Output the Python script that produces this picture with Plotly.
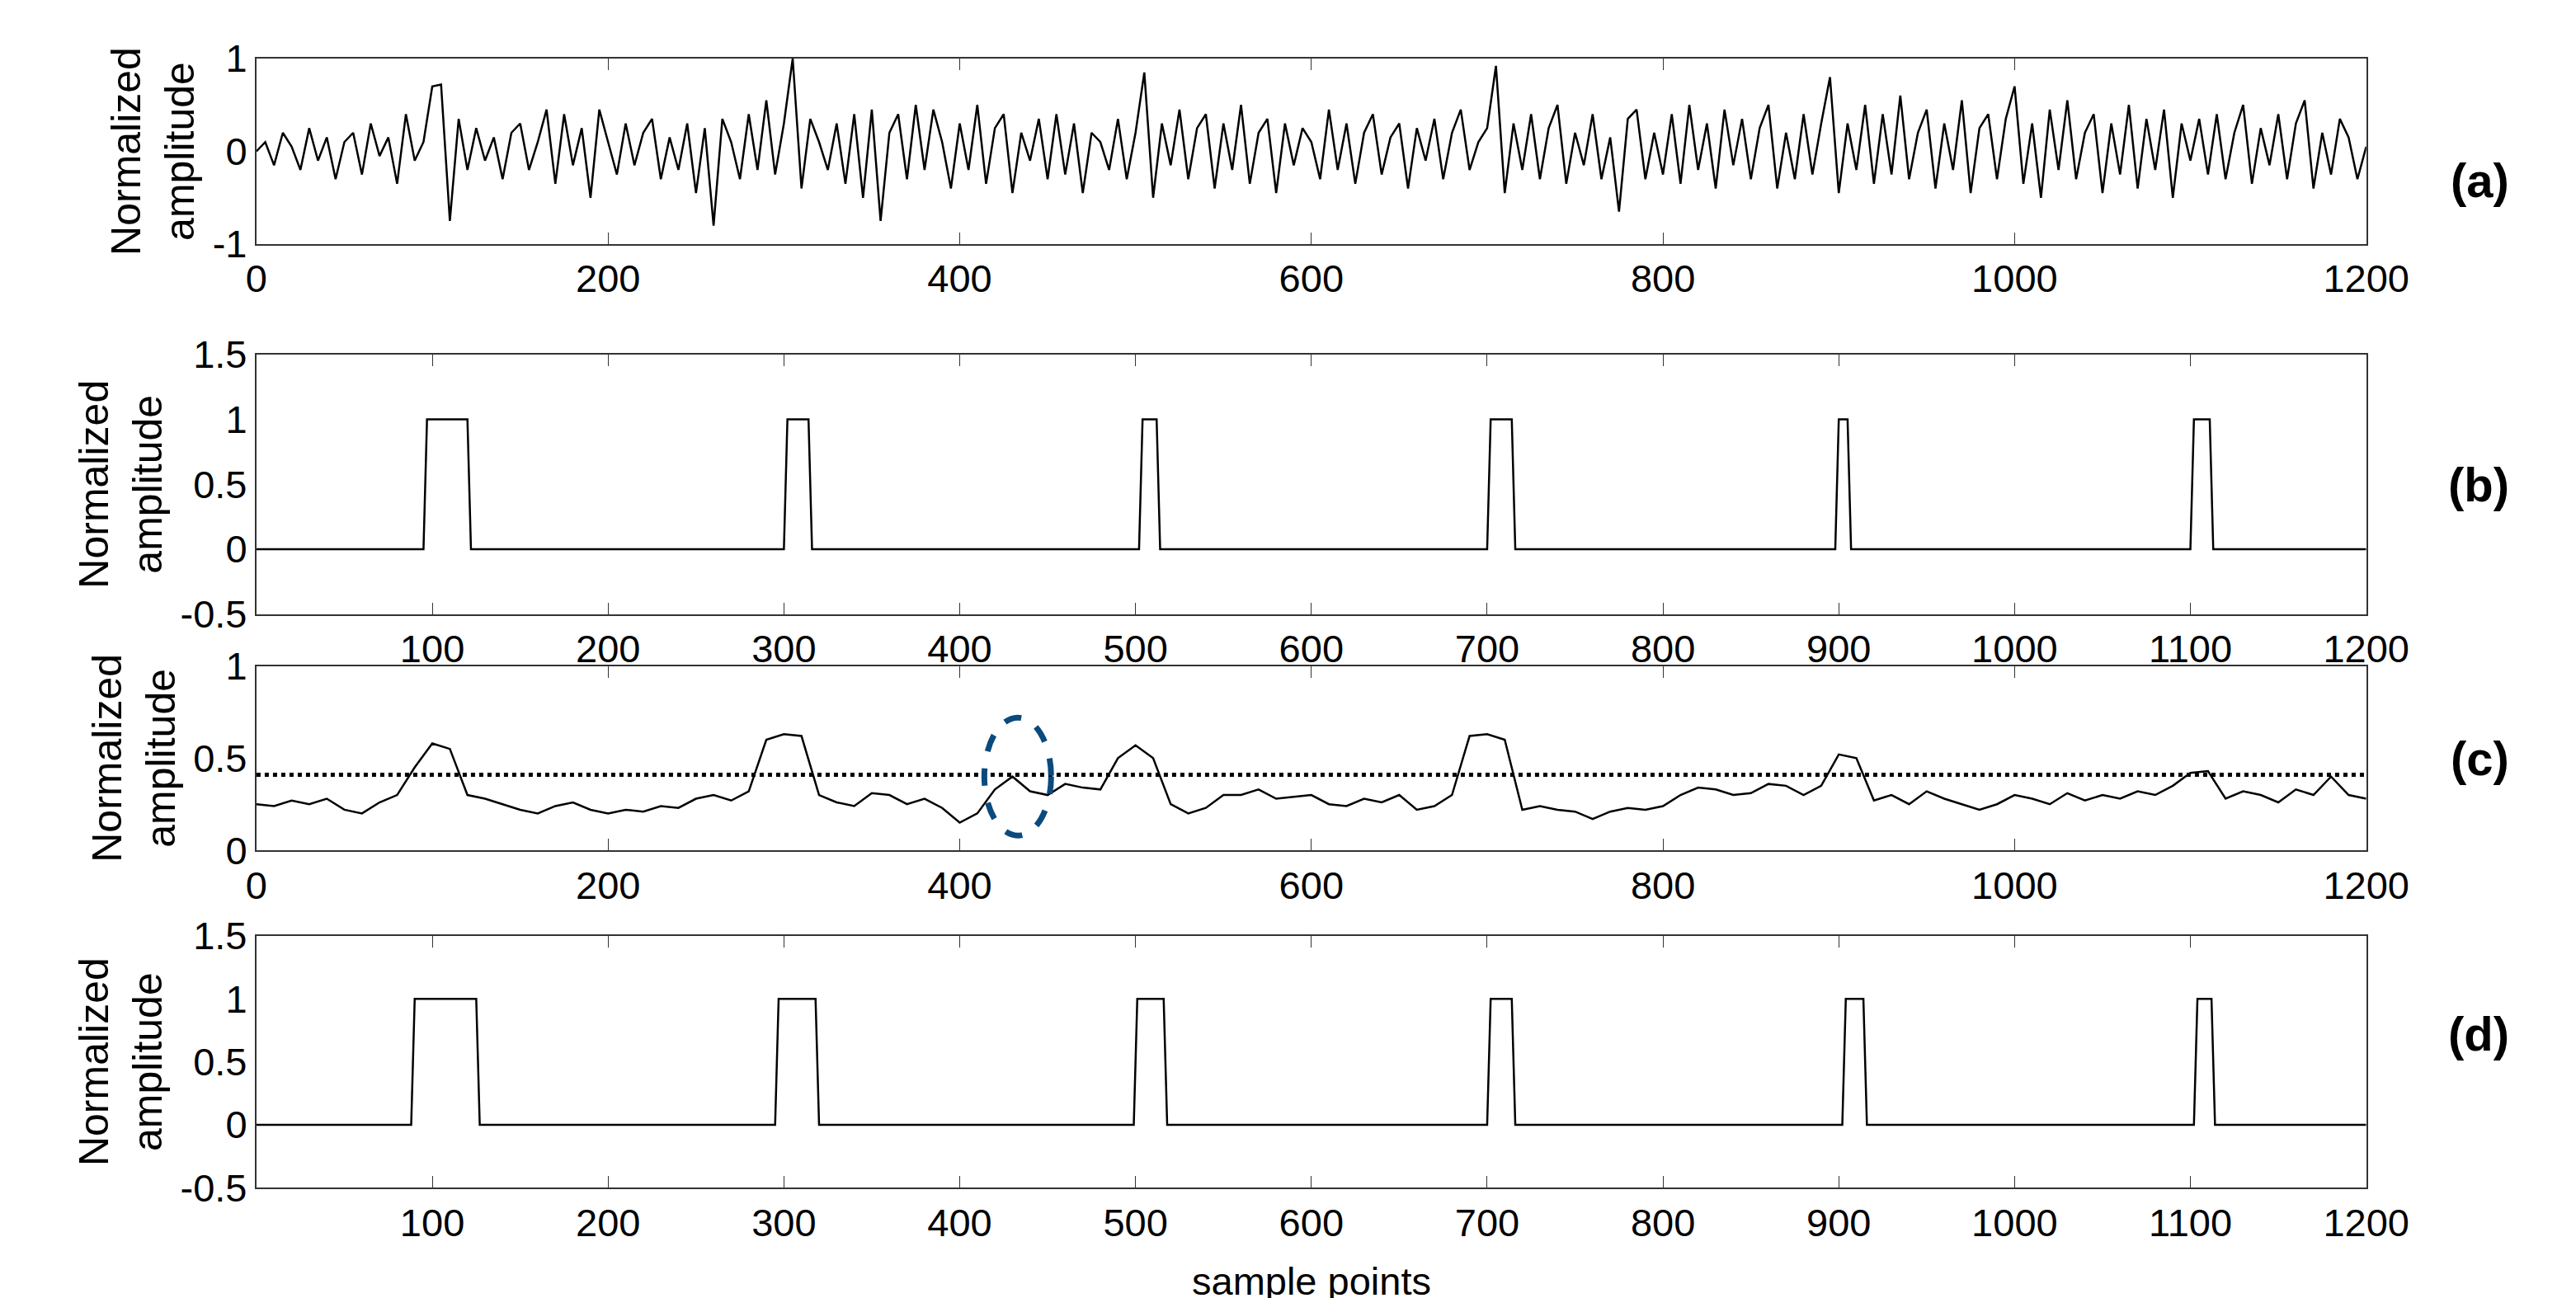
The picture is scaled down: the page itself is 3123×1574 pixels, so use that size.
import plotly.graph_objects as go

# (a) raw signal, sampled every 5 points (x = 0, 5, ..., 1200)
raw_step = 5
raw_signal = [
    0.0, 0.1, -0.15, 0.2, 0.05, -0.2, 0.25, -0.1, 0.15, -0.3, 0.1, 0.2, -0.25, 0.3, -0.05, 0.15, -0.35, 0.4, -0.1, 0.1,
    0.7, 0.72, -0.75, 0.35, -0.2, 0.25, -0.1, 0.15, -0.3, 0.2, 0.3, -0.2, 0.1, 0.45, -0.35, 0.4, -0.15, 0.25, -0.5, 0.45,
    0.1, -0.25, 0.3, -0.15, 0.2, 0.35, -0.3, 0.15, -0.2, 0.3, -0.45, 0.25, -0.8, 0.35, 0.1, -0.3, 0.4, -0.2, 0.55, -0.25,
    0.3, 1.0, -0.4, 0.35, 0.1, -0.2, 0.3, -0.35, 0.4, -0.5, 0.45, -0.75, 0.2, 0.4, -0.3, 0.5, -0.2, 0.45, 0.1, -0.4,
    0.3, -0.2, 0.5, -0.35, 0.25, 0.4, -0.45, 0.2, -0.1, 0.35, -0.3, 0.4, -0.25, 0.3, -0.45, 0.2, 0.1, -0.2, 0.35, -0.3,
    0.2, 0.85, -0.5, 0.3, -0.15, 0.45, -0.3, 0.25, 0.4, -0.4, 0.3, -0.2, 0.5, -0.35, 0.2, 0.35, -0.45, 0.3, -0.15, 0.25,
    0.1, -0.3, 0.45, -0.2, 0.3, -0.35, 0.2, 0.4, -0.25, 0.15, 0.3, -0.4, 0.25, -0.1, 0.35, -0.3, 0.2, 0.45, -0.2, 0.1,
    0.25, 0.92, -0.45, 0.3, -0.2, 0.4, -0.3, 0.25, 0.5, -0.35, 0.2, -0.15, 0.4, -0.3, 0.15, -0.65, 0.35, 0.45, -0.3, 0.2,
    -0.25, 0.4, -0.35, 0.5, -0.2, 0.3, -0.4, 0.45, -0.15, 0.35, -0.3, 0.25, 0.5, -0.4, 0.2, -0.3, 0.4, -0.25, 0.3, 0.8,
    -0.45, 0.3, -0.2, 0.5, -0.35, 0.4, -0.25, 0.6, -0.3, 0.2, 0.45, -0.4, 0.3, -0.2, 0.55, -0.45, 0.25, 0.4, -0.3, 0.35,
    0.7, -0.35, 0.3, -0.5, 0.45, -0.2, 0.55, -0.3, 0.2, 0.4, -0.45, 0.3, -0.25, 0.5, -0.4, 0.35, -0.2, 0.45, -0.5, 0.3,
    -0.1, 0.35, -0.25, 0.4, -0.3, 0.2, 0.5, -0.35, 0.25, -0.15, 0.4, -0.3, 0.3, 0.55, -0.4, 0.2, -0.25, 0.35, 0.15, -0.3,
    0.05,
]

# (b) reference pulses (start, end)
ref_pulses = [(95, 122), (300, 316), (502, 514), (700, 716), (898, 907), (1100, 1113)]

# (c) smoothed envelope, sampled every 10 points (x = 0, 10, ..., 1200)
env_step = 10
envelope = [
    0.25, 0.24, 0.27, 0.25, 0.28, 0.22, 0.2, 0.26, 0.3, 0.45, 0.58, 0.55, 0.3, 0.28, 0.25, 0.22, 0.2, 0.24, 0.26, 0.22,
    0.2, 0.22, 0.21, 0.24, 0.23, 0.28, 0.3, 0.27, 0.32, 0.6, 0.63, 0.62, 0.3, 0.26, 0.24, 0.31, 0.3, 0.25, 0.28, 0.23,
    0.15, 0.2, 0.33, 0.4, 0.32, 0.3, 0.36, 0.34, 0.33, 0.5, 0.57, 0.5, 0.25, 0.2, 0.23, 0.3, 0.3, 0.33, 0.28, 0.29,
    0.3, 0.25, 0.24, 0.28, 0.26, 0.3, 0.22, 0.24, 0.3, 0.62, 0.63, 0.6, 0.22, 0.24, 0.22, 0.21, 0.17, 0.21, 0.23, 0.22,
    0.24, 0.3, 0.34, 0.33, 0.3, 0.31, 0.36, 0.35, 0.3, 0.35, 0.52, 0.5, 0.27, 0.3, 0.25, 0.32, 0.28, 0.25, 0.22, 0.25,
    0.3, 0.28, 0.25, 0.31, 0.27, 0.3, 0.28, 0.32, 0.3, 0.35, 0.42, 0.43, 0.28, 0.32, 0.3, 0.26, 0.33, 0.3, 0.4, 0.3,
    0.28,
]
threshold = 0.41

# (d) detected pulses (start, end)
det_pulses = [(88, 127), (295, 320), (499, 518), (700, 716), (902, 916), (1102, 1114)]

panel_labels = ["(a)", "(b)", "(c)", "(d)"]


def pulse_trace(pulses):
    xs, ys = [0], [0]
    for a, b in pulses:
        xs += [a, a + 2, b - 2, b]
        ys += [0, 1, 1, 0]
    xs.append(1200)
    ys.append(0)
    return xs, ys


domains = [(0.817, 0.96), (0.532, 0.732), (0.35, 0.492), (0.09, 0.284)]
font = dict(family="Liberation Sans, Arial", size=47, color="black")

fig = go.Figure()
line = dict(color="black", width=2.5)
fig.add_trace(go.Scatter(x=[i * raw_step for i in range(len(raw_signal))], y=raw_signal,
                         mode="lines", line=line, xaxis="x", yaxis="y"))
bx, by = pulse_trace(ref_pulses)
fig.add_trace(go.Scatter(x=bx, y=by, mode="lines", line=line, xaxis="x2", yaxis="y2"))
fig.add_trace(go.Scatter(x=[i * env_step for i in range(len(envelope))], y=envelope,
                         mode="lines", line=line, xaxis="x3", yaxis="y3"))
fig.add_trace(go.Scatter(x=[0, 1200], y=[threshold, threshold], mode="lines",
                         line=dict(color="black", width=5, dash="dot"), xaxis="x3", yaxis="y3"))
dx, dy = pulse_trace(det_pulses)
fig.add_trace(go.Scatter(x=dx, y=dy, mode="lines", line=line, xaxis="x4", yaxis="y4"))

yticks = [[-1, 0, 1], [-0.5, 0, 0.5, 1, 1.5], [0, 0.5, 1], [-0.5, 0, 0.5, 1, 1.5]]
yranges = [(-1, 1), (-0.5, 1.5), (0, 1), (-0.5, 1.5)]
layout = dict(width=3123, height=1574, margin=dict(l=0, r=0, t=0, b=0),
              plot_bgcolor="white", paper_bgcolor="white", showlegend=False, font=font)
for i in range(4):
    k = "" if i == 0 else str(i + 1)
    small = i in (1, 3)
    layout["xaxis" + k] = dict(
        domain=[0.097, 0.916], anchor="y" + k, range=[0, 1200], automargin=False,
        tickvals=list(range(100, 1201, 100)) if small else list(range(0, 1201, 200)),
        ticks="inside", ticklen=14, tickcolor="#333", showline=True, linecolor="#333", linewidth=2,
        mirror="ticks", showgrid=False, zeroline=False, tickfont=font,
    )
    layout["yaxis" + k] = dict(
        domain=list(domains[i]), anchor="x" + k, range=list(yranges[i]), automargin=False,
        tickvals=yticks[i], ticktext=[("%g" % v) for v in yticks[i]],
        ticks="", showline=True, linecolor="#333", linewidth=2, mirror=True,
        showgrid=False, zeroline=False, tickfont=font,
        title=dict(text="Normalized<br>amplitude", font=dict(family="Liberation Sans, Arial", size=50, color="black"),
                   standoff=6),
    )
fig.update_layout(**layout)

fig.add_annotation(text="sample points", xref="paper", yref="paper", x=(0.097 + 0.916) / 2, y=0.0,
                   yanchor="bottom", showarrow=False, font=font)
for i, lab in enumerate(panel_labels):
    d0, d1 = domains[i]
    fig.add_annotation(text="<b>" + lab + "</b>", xref="paper", yref="paper", x=0.972, y=(d0 + d1) / 2,
                       showarrow=False, font=dict(family="Liberation Sans, Arial", size=58, color="black"))

fig.add_shape(type="circle", xref="x3", yref="y3", x0=414, x1=452, y0=0.08, y1=0.72,
              line=dict(color="#0b4a7d", width=7, dash="dash"))

fig.write_html("out.html")
